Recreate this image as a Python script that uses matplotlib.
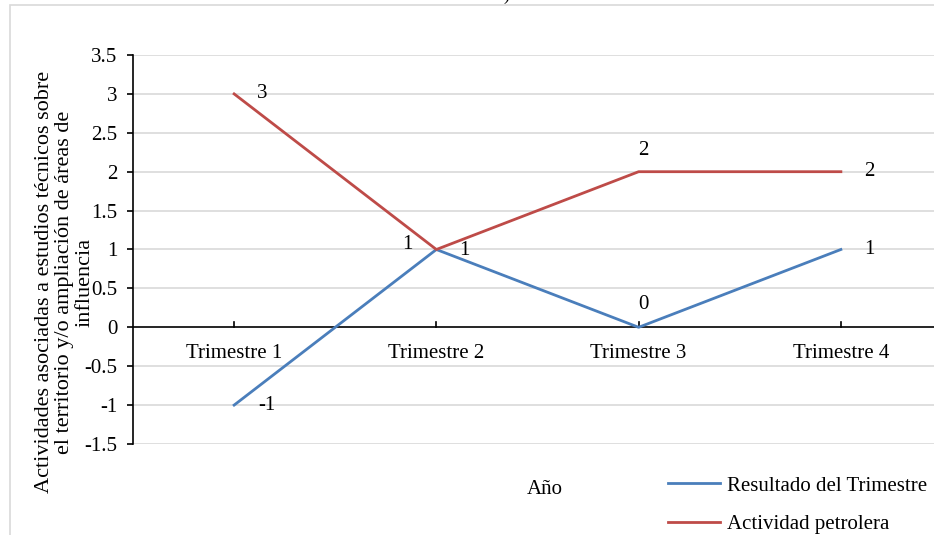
import matplotlib
matplotlib.use("Agg")
import matplotlib.pyplot as plt
from matplotlib.patches import Rectangle

categories = ["Trimestre 1", "Trimestre 2", "Trimestre 3", "Trimestre 4"]
resultado = [-1, 1, 0, 1]
actividad = [3, 1, 2, 2]
yticks = [-1.5, -1, -0.5, 0, 0.5, 1, 1.5, 2, 2.5, 3, 3.5]

plt.rcParams["font.family"] = ["Liberation Serif", "DejaVu Serif"]

W, H = 934, 535
fig = plt.figure(figsize=(W / 100, H / 100), dpi=100)

# chart frame (extends past the right and bottom edges)
fig.patches.append(Rectangle((10 / W, -0.1), 1.2, 1 - 5 / H + 0.1,
                             transform=fig.transFigure, fill=False,
                             edgecolor="#d9d9d9", linewidth=1.2))
# bottom of the clipped title
fig.text(506 / W, 1.0, ")", fontsize=13, va="baseline", ha="center")

left, right = 133, 942
top, bottom = 55, 444
ax = fig.add_axes([left / W, 1 - bottom / H, (right - left) / W, (bottom - top) / H])

x = list(range(len(categories)))
ax.set_xlim(-0.5, len(categories) - 0.5)
ax.set_ylim(-1.5, 3.5)

for yv in yticks:
    if yv != 0:
        ax.axhline(yv, color="#d9d9d9", linewidth=1.2, zorder=0)
ax.axhline(0, color="black", linewidth=1.2, zorder=1)

blue = "#4a7ebb"
red = "#be4b48"
ax.plot(x, resultado, color=blue, linewidth=2.0, zorder=3, label="Resultado del Trimestre")
ax.plot(x, actividad, color=red, linewidth=2.0, zorder=3, label="Actividad petrolera")

fs = 15
# data label offsets in pixels (right, up)
res_off = [(33, 0), (28, -1), (5, 23), (28, 0)]
act_off = [(28, 0), (-29, 5), (5, 21), (28, 0)]
for i, v in enumerate(resultado):
    ax.annotate(f"{v}", (x[i], v), xytext=res_off[i], textcoords="offset pixels",
                ha="center", va="center", fontsize=fs)
for i, v in enumerate(actividad):
    ax.annotate(f"{v}", (x[i], v), xytext=act_off[i], textcoords="offset pixels",
                ha="center", va="center", fontsize=fs)

for sp in ["top", "right", "bottom"]:
    ax.spines[sp].set_visible(False)
ax.spines["left"].set_linewidth(1.2)

ax.set_yticks(yticks)
ax.set_yticklabels([f"{v:g}" for v in yticks], fontsize=fs)
ax.tick_params(axis="y", length=4.3, width=1.2, direction="out", pad=7)

ax.set_xticks(x)
ax.set_xticklabels([])
ax.tick_params(axis="x", length=0)
for i, c in enumerate(categories):
    ax.plot([x[i], x[i]], [0, 0.07], color="black", linewidth=1.2, zorder=2)
    ax.annotate(c, (x[i], 0), xytext=(0, -26), textcoords="offset pixels",
                ha="center", va="center", fontsize=fs)

fig.text(65 / W, 1 - 282 / H,
         "Actividades asociadas a estudios técnicos sobre\n"
         "el territorio y/o ampliación de áreas de\ninfluencia",
         rotation=90, ha="center", va="center", fontsize=16, linespacing=1.08,
         multialignment="center")

fig.text(545 / W, 1 - 490 / H, "Año", ha="center", va="center", fontsize=fs)

leg = fig.legend(loc="upper left", bbox_to_anchor=(668 / W, 1 - 476 / H),
                 frameon=False, fontsize=fs, handlelength=2.5, handletextpad=0.35,
                 labelspacing=0.9, borderpad=0, borderaxespad=0)

fig.savefig("out.png", dpi=100)
